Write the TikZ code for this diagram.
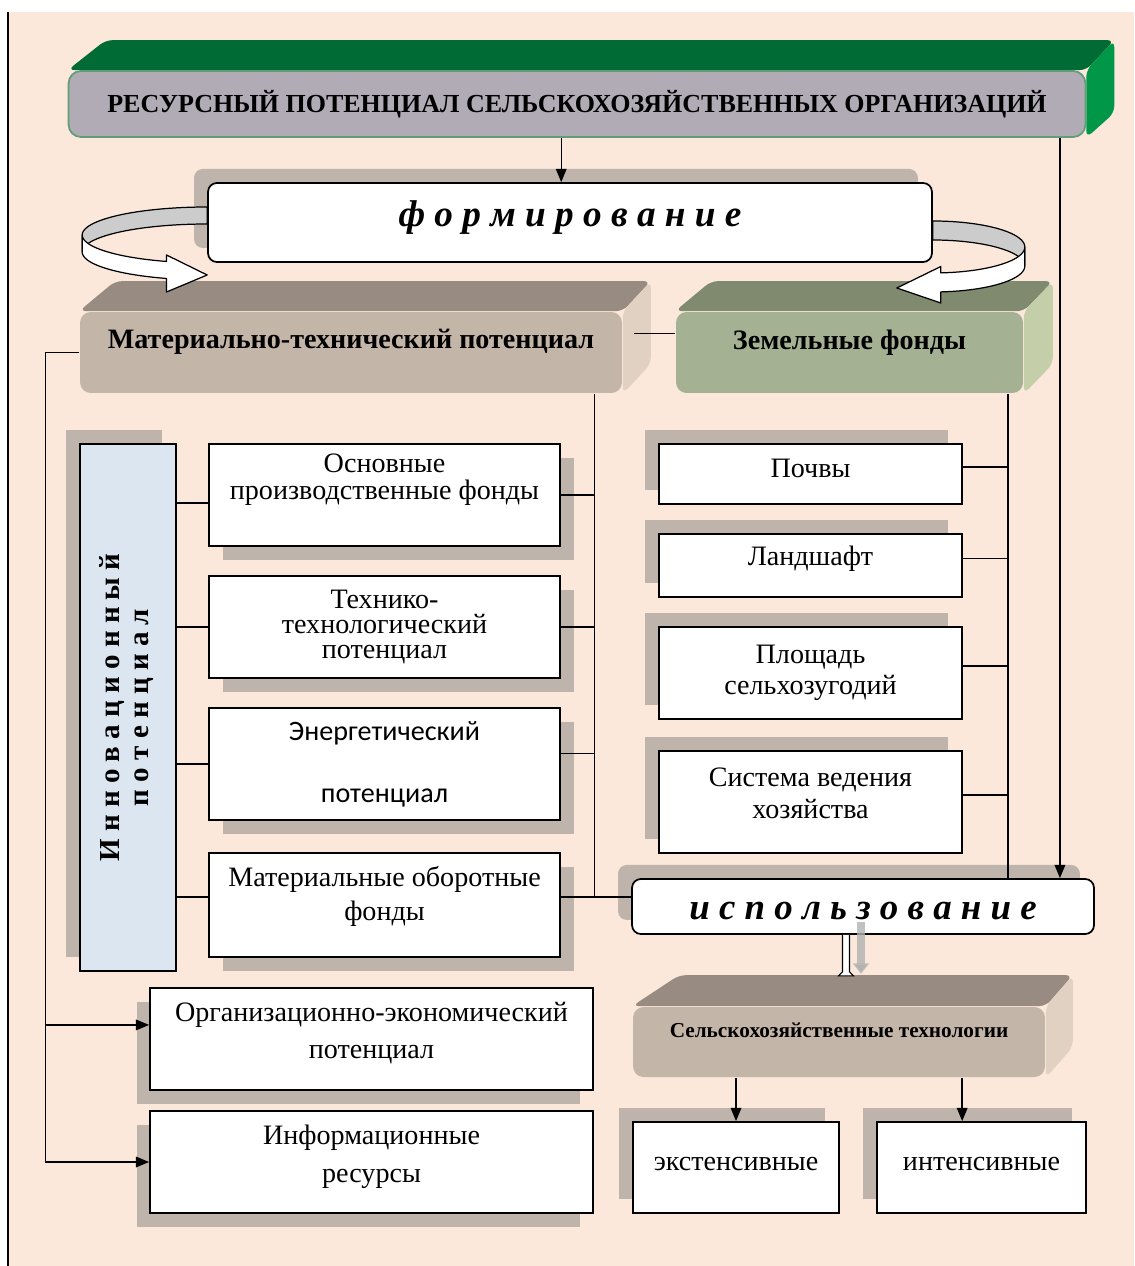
\documentclass[tikz,border=0pt]{standalone}
\usepackage{fontspec}
\setmainfont{Liberation Serif}
\newfontfamily\calfont{Carlito}
\usepackage{graphicx}
\usepackage{xcolor}
\usepackage{tikz}
\usetikzlibrary{arrows.meta, positioning, calc, backgrounds, shadows}
\definecolor{peach}{RGB}{252,232,218}
\definecolor{shadowgray}{RGB}{191,180,171}
\definecolor{titletop}{RGB}{0,107,52}
\definecolor{titleside}{RGB}{0,152,72}
\definecolor{titlefront}{RGB}{177,171,181}
\definecolor{titleedge}{RGB}{96,158,120}
\definecolor{mttop}{RGB}{152,139,129}
\definecolor{mtfront}{RGB}{196,181,169}
\definecolor{mtside}{RGB}{224,209,195}
\definecolor{zftop}{RGB}{127,138,111}
\definecolor{zffront}{RGB}{165,177,147}
\definecolor{zfside}{RGB}{196,206,168}
\definecolor{innofill}{RGB}{220,230,241}
\definecolor{ribbongray}{RGB}{204,204,204}

\begin{document}
\begin{tikzpicture}[
    x=0.02cm, y=-0.02cm,
    box/.style={draw, fill=white, line width=1pt, align=center, inner sep=2pt, font=\fontsize{16}{18}\selectfont},
    rbox/.style={box, rounded corners=5pt},
    block/.style={box, draw=none, rounded corners=6pt, font=\fontsize{16}{18}\selectfont\bfseries},
    link/.style={line width=0.8pt},
    arr/.style={link, -{Triangle[length=7.5pt,width=6pt]}},
    shdr/.style={general shadow={fill=shadowgray, shadow xshift=8pt, shadow yshift=-8pt}},
    shul/.style={general shadow={fill=shadowgray, shadow xshift=-8pt, shadow yshift=8pt}},
    shdl/.style={general shadow={fill=shadowgray, shadow xshift=-7.5pt, shadow yshift=-8pt}},
    ribbon/.style={draw, line width=0.7pt, line join=round}
]
    \useasboundingbox (0,0) rectangle (1134,1266);
    \begin{scope}[on background layer]
        \fill[peach] (9,12) rectangle (1134,1266);
    \end{scope}
    \draw[link] (8,12) -- (8,1266);

    % Title
    \node[box, fill=titlefront, draw=titleedge, rounded corners=7pt, minimum width=20.34cm, minimum height=1.32cm,
          font=\fontsize{14.8}{18}\selectfont\bfseries] (title) at (577,104) {РЕСУРСНЫЙ ПОТЕНЦИАЛ СЕЛЬСКОХОЗЯЙСТВЕННЫХ ОРГАНИЗАЦИЙ};

    % Formation
    \node[rbox, shul, minimum width=14.48cm, minimum height=1.58cm, font=\fontsize{21.2}{25}\selectfont\bfseries\itshape,
          text depth=10.5pt] (form) at (570,222.5) {ф о р м и р о в а н и е};

    % Ribbon arrows
    \begin{scope}[shift={(form.west)}]
        \filldraw[ribbon, fill=ribbongray] plot[domain=270:180, samples=30] ({125*cos(\x)},{12.5+28*sin(\x)})
            -- plot[domain=180:270, samples=30] ({125*cos(\x)},{29.5+28*sin(\x)}) -- cycle;
        \filldraw[ribbon, fill=white] plot[domain=180:109, samples=30] ({125*cos(\x)},{12.5+28*sin(\x)})
            -- (-40.7,32.5) -- (0,52.5) -- (-40.7,69.5)
            -- plot[domain=109:180, samples=30] ({125*cos(\x)},{29.5+28*sin(\x)}) -- cycle;
    \end{scope}
    \begin{scope}[shift={(form.east)}]
        \filldraw[ribbon, fill=ribbongray] plot[domain=270:360, samples=30] ({92*cos(\x)},{24.5+26*sin(\x)})
            -- plot[domain=360:270, samples=30] ({92*cos(\x)},{43.5+26*sin(\x)}) -- cycle;
        \filldraw[ribbon, fill=white] plot[domain=0:85, samples=30] ({92*cos(\x)},{24.5+26*sin(\x)})
            -- (8,44) -- (-36,65.5) -- (8,80.5)
            -- plot[domain=85:0, samples=30] ({92*cos(\x)},{43.5+26*sin(\x)}) -- cycle;
    \end{scope}

    % Main blocks
    \node[block, fill=mtfront, minimum width=10.84cm, minimum height=1.62cm, text depth=15pt] (mt) at (351,352.5) {Материально-технический потенциал};
    \node[block, fill=zffront, minimum width=6.94cm, minimum height=1.62cm, text depth=15pt] (zf) at (849.5,352.5) {Земельные фонды};

    % Innovation potential
    \node[box, fill=innofill, shul, minimum width=1.92cm, minimum height=10.54cm, font=\fontsize{16.5}{17}\selectfont\bfseries] (inno) at (128,707.5)
        {\rotatebox{90}{\begin{tabular}{@{}c@{}}И н н о в а ц и о н н ы й\\п о т е н ц и а л\end{tabular}}};

    % Material-technical parts
    \node[box, shdr, minimum width=7.02cm, minimum height=2.04cm, font=\fontsize{16}{15.3}\selectfont, text depth=20.5pt] (fix) at (384.5,495) {Основные\\производственные фонды};
    \node[box, shdr, minimum width=7.02cm, minimum height=2.04cm, font=\fontsize{16}{14.5}\selectfont] (techno) at (384.5,627) {Технико-\\технологический\\потенциал};
    \node[box, shdr, minimum width=7.02cm, minimum height=2.24cm, font=\calfont\fontsize{16}{19.5}\selectfont] (energy) at (384.5,764) {Энергетический\\[16pt]потенциал};
    \node[box, shdr, minimum width=7.02cm, minimum height=2.08cm, font=\fontsize{16}{19.3}\selectfont, text depth=13.5pt] (mat) at (384.5,905) {Материальные оборотные\\фонды};

    % Land parts
    \node[box, shul, minimum width=6.06cm, minimum height=1.2cm, text depth=7pt] (soil) at (810.5,474) {Почвы};
    \node[box, shul, minimum width=6.06cm, minimum height=1.26cm, text depth=11pt] (land) at (810.5,565.5) {Ландшафт};
    \node[box, shul, minimum width=6.06cm, minimum height=1.84cm] (area) at (810.5,673) {Площадь\\сельхозугодий};
    \node[box, shul, minimum width=6.06cm, minimum height=2.04cm, text depth=10pt] (sys) at (810.5,802) {Система ведения\\хозяйства};

    % Usage
    \node[rbox, shul, minimum width=9.24cm, minimum height=1.1cm, font=\fontsize{21}{24}\selectfont\bfseries\itshape,
          text height=14.5pt] (usage) at (863,906.5) {и с п о л ь з о в а н и е};

    % Technologies
    \node[block, fill=mtfront, minimum width=8.24cm, minimum height=1.4cm, font=\fontsize{12.1}{14}\selectfont\bfseries,
          text depth=14pt] (tech) at (839,1042) {Сельскохозяйственные технологии};
    \node[box, shul, minimum width=4.12cm, minimum height=1.82cm, text depth=4pt] (ext) at (736,1167.5) {экстенсивные};
    \node[box, shul, minimum width=4.18cm, minimum height=1.82cm, text depth=4pt] (int) at (981.5,1167.5) {интенсивные};

    % Other potentials
    \node[box, shdl, minimum width=8.86cm, minimum height=2.04cm, font=\fontsize{16}{21}\selectfont, text depth=9.5pt] (org) at (371.5,1039) {Организационно-экономический\\потенциал};
    \node[box, shdl, minimum width=8.86cm, minimum height=2.04cm, font=\fontsize{16}{21.5}\selectfont, text depth=9pt] (info) at (371.5,1162) {Информационные\\ресурсы};

    % 3D faces
    \begin{scope}[on background layer]
        \fill[titletop, rounded corners=4pt] (title.north west) -- ++(38,-30) -- ([shift={(28,-30)}]title.north east) -- (title.north east) -- cycle;
        \fill[titleside, rounded corners=4pt] (title.north east) -- ++(28,-30) -- ([shift={(28,-25)}]title.south east) -- (title.south east) -- cycle;
        \fill[mttop, rounded corners=4pt] (mt.north west) -- ++(36,-30) -- ([shift={(28,-30)}]mt.north east) -- (mt.north east) -- cycle;
        \fill[mtside, rounded corners=4pt] (mt.north east) -- ++(28,-30) -- ([shift={(28,-30)}]mt.south east) -- (mt.south east) -- cycle;
        \fill[zftop, rounded corners=4pt] (zf.north west) -- ++(36,-30) -- ([shift={(29,-30)}]zf.north east) -- (zf.north east) -- cycle;
        \fill[zfside, rounded corners=4pt] (zf.north east) -- ++(29,-30) -- ([shift={(29,-30)}]zf.south east) -- (zf.south east) -- cycle;
        \fill[mttop, rounded corners=4pt] (tech.north west) -- ++(47,-31) -- ([shift={(27,-31)}]tech.north east) -- (tech.north east) -- cycle;
        \fill[mtside, rounded corners=4pt] (tech.north east) -- ++(27,-31) -- ([shift={(27,-31)}]tech.south east) -- (tech.south east) -- cycle;
    \end{scope}

    % Connectors
    \coordinate (ftop) at ([xshift=-5pt]form.north);
    \coordinate (mbus) at ([xshift=-16pt]mt.south east);
    \coordinate (zbus) at ([xshift=-9pt]zf.south east);
    \coordinate (lbus) at ([xshift=-19pt]mt.west);
    \coordinate (rbus) at ([xshift=-15pt]title.south east);
    \coordinate (oin) at ([yshift=8pt]org.west);
    \coordinate (iin) at ([xshift=-11pt]int.north);
    \coordinate (fixin) at ([yshift=-4.5pt]fix.west);
    \coordinate (matin) at ([yshift=4.5pt]mat.west);
    \coordinate (matout) at ([yshift=4.5pt]mat.east);
    \coordinate (hs) at ($(usage.south)+(-17,0)$);

    \draw[arr] (title.south -| ftop) -- (ftop);
    \draw[arr] (rbus) -- (rbus |- usage.north);
    \draw[link] ([shift={(11,-19)}]mt.east) -- ([shift={(0,-19)}]zf.west);
    \draw[arr] (mt.west) -- (lbus) |- (info.west);
    \draw[arr] (lbus |- oin) -- (oin);

    \draw[link] (mbus) -- (mbus |- matout);
    \draw[link] (fix.east) -| (mbus);
    \draw[link] (techno.east) -| (mbus);
    \draw[link] ([yshift=6pt]energy.east) -| (mbus);
    \draw[link] (matout) -- (matout -| usage.west);
    \foreach \n in {fixin,techno.west,energy.west,matin}
        \draw[link] (inno.east |- \n) -- (\n);

    \draw[link] (zbus) -- (zbus |- usage.north);
    \foreach \n in {soil,land,area,sys}
        \draw[link] ([yshift=4pt]\n.east) -| (zbus);

    % Usage to technologies
    \filldraw[fill=white, line width=0.6pt] ($(hs)+(-3.5,0)$) -- ++(0,37) -- ++(-4,4) -- ++(15,0) -- ++(-4,-4) -- ++(0,-37);
    \draw[line width=4.5pt, draw=black!30, draw opacity=0.8, -{Triangle[length=6pt,width=9pt]}] ($(usage.south)+(-2,-13)$) -- ($(usage.south)+(-2,39)$);
    \draw[arr] (tech.south -| ext.north) -- (ext.north);
    \draw[arr] (tech.south -| iin) -- (iin);
\end{tikzpicture}
\end{document}
